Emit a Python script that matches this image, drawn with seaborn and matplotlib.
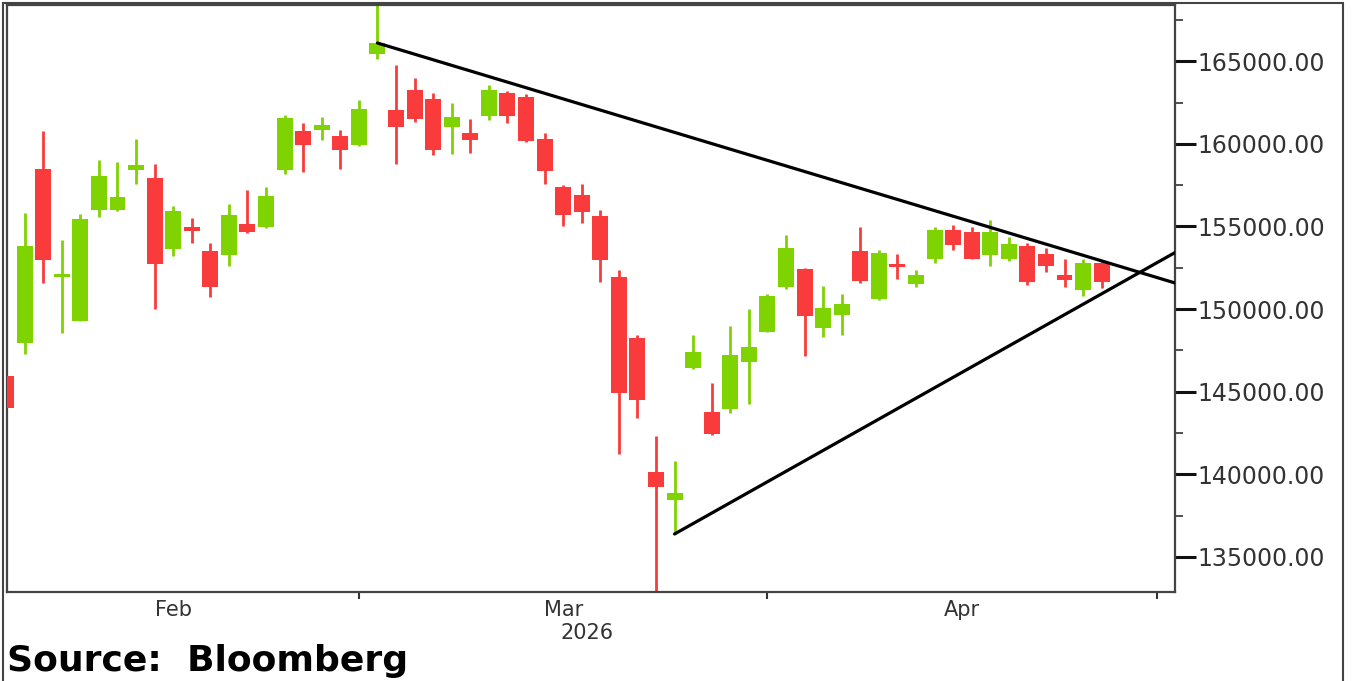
import numpy as np
import pandas as pd
import matplotlib
matplotlib.use("Agg")
import matplotlib.pyplot as plt
import seaborn as sns
from matplotlib.ticker import MultipleLocator, FormatStrFormatter, FixedLocator
from matplotlib.patches import Rectangle
from matplotlib.transforms import blended_transform_factory

sns.set_theme(style="white")
plt.rcParams["font.family"] = ["DejaVu Sans"]

# daily OHLC (one value per trading day)
opens = [145950, 147950, 158450, 151950, 149300, 155980, 155980, 158400, 157950, 153650,
         154970, 153500, 153260, 155140, 154980, 158400, 160760, 160860, 160470, 159910,
         165450, 162030, 163280, 162690, 161020, 160650, 161690, 163080, 162820, 160280,
         157390, 156890, 155620, 151950, 148280, 140160, 138450, 146410, 143790, 143950,
         146770, 148620, 151310, 152450, 148830, 149670, 153500, 150580, 152700, 151510,
         153060, 154770, 154670, 153260, 153060, 153800, 153360, 152050, 151140, 152760]
highs = [146100, 155800, 160780, 154200, 155750, 159050, 158900, 160270, 158750, 156250,
         155540, 154000, 156380, 157180, 157380, 161720, 161260, 161620, 160860, 162680,
         169500, 164790, 164000, 163070, 162470, 161490, 163540, 163220, 163000, 160650,
         157490, 157590, 155980, 152390, 148420, 142320, 140820, 148460, 145500, 148970,
         150000, 150900, 154470, 152500, 151390, 150900, 154970, 153600, 153320, 152350,
         154970, 155070, 154970, 155420, 154370, 154000, 153700, 153000, 153060, 152900]
lows = [143800, 147300, 151550, 148550, 149250, 155570, 155950, 157550, 150000, 153200,
        153970, 150740, 152600, 154600, 154930, 158150, 158300, 160210, 158460, 159880,
        165150, 158800, 161320, 159300, 159370, 159440, 161430, 161270, 160100, 157570,
        155010, 155180, 151640, 141210, 143420, 132500, 136390, 146380, 142400, 143690,
        144250, 148600, 151190, 147170, 148320, 148420, 151550, 150550, 151790, 151310,
        152790, 153560, 153000, 152610, 152910, 151450, 152250, 151340, 150780, 151250]
closes = [144010, 153800, 152950, 152050, 155480, 158050, 156780, 158740, 152750, 155950,
          154730, 151350, 155720, 154680, 156870, 161540, 159950, 161160, 159650, 162130,
          166100, 161020, 161480, 159650, 161620, 160210, 163280, 161690, 160180, 158380,
          155680, 155880, 152960, 144930, 144490, 139250, 138890, 147410, 142440, 147250,
          147720, 150800, 153700, 149590, 150040, 150300, 151690, 153400, 152550, 152050,
          154770, 153860, 153060, 154670, 153910, 151650, 152590, 151750, 152760, 151650]

month_ticks = [19, 41, 62]
month_labels = ["Feb", "Mar", "Apr"]
month_label_pos = [9, 30, 51.5]
year_label = "2026"
year_label_pos = 31.3

# trend lines (start point, point at right edge)
down_x = [20, 62.95]
down_y = [166100, 151580]
up_x = [36, 62.95]
up_y = [136390, 153420]

df = pd.DataFrame({"open": opens, "high": highs, "low": lows, "close": closes})
df["x"] = np.arange(len(df))
df["up"] = df["close"] >= df["open"]

GREEN = "#7FD300"
RED = "#F93B3B"
colors = np.where(df["up"], GREEN, RED)

W, H = 1354, 681
fig = plt.figure(figsize=(W / 100, H / 100), dpi=100)
ax = fig.add_axes([7 / W, 1 - 592 / H, (1175 - 7) / W, (592 - 5) / H])
ax.set_facecolor("white")

# wicks then bodies
ax.vlines(df["x"], df["low"], df["high"], colors=colors, lw=2, zorder=2)
body_lo = df[["open", "close"]].min(axis=1)
body_h = (df["close"] - df["open"]).abs().clip(lower=150)
ax.bar(df["x"], body_h, bottom=body_lo, width=0.86, color=colors, lw=0, zorder=3)

sns.lineplot(x=down_x, y=down_y, ax=ax, color="black", lw=2.3, zorder=4)
sns.lineplot(x=up_x, y=up_y, ax=ax, color="black", lw=2.3, zorder=4)

ax.set_xlim(0.05, 62.95)
ax.set_ylim(132880, 168400)

# y axis on the right
ax.yaxis.tick_right()
ax.yaxis.set_major_locator(MultipleLocator(5000))
ax.yaxis.set_minor_locator(MultipleLocator(2500))
ax.yaxis.set_major_formatter(FormatStrFormatter("%.2f"))
ax.tick_params(axis="y", which="major", direction="out", length=15, width=2.2,
               color="#111111", labelsize=17, labelcolor="#333333", pad=1,
               left=False, right=True)
ax.tick_params(axis="y", which="minor", direction="out", length=6, width=1.2,
               color="#333333", left=False, right=True)

# x axis: ticks at month starts, labels between them
ax.xaxis.set_major_locator(FixedLocator(month_ticks))
ax.xaxis.set_major_formatter(plt.NullFormatter())
ax.xaxis.set_minor_locator(FixedLocator(month_label_pos))
ax.set_xticklabels(month_labels, minor=True)
ax.tick_params(axis="x", which="major", direction="out", length=5, width=1.5,
               color="#333333", bottom=True)
ax.tick_params(axis="x", which="minor", length=0, labelsize=15,
               labelcolor="#333333", pad=6)
trans = blended_transform_factory(ax.transData, ax.transAxes)
ax.text(year_label_pos, -0.07, year_label, transform=trans, ha="center", va="center",
        fontsize=15, color="#333333")

for s in ax.spines.values():
    s.set_visible(True)
    s.set_color("#444444")
    s.set_linewidth(1.6)
ax.grid(False)
ax.set_xlabel("")
ax.set_ylabel("")

fig.text(7 / W, 10 / H, "Source:  Bloomberg", fontsize=26, fontweight="bold",
         color="black", ha="left", va="baseline")

# outer frame of the picture
fig.add_artist(Rectangle((3 / W, -0.01), (1343 - 3) / W, 1.0 - 3 / H + 0.01,
                         transform=fig.transFigure, fill=False, lw=1.5,
                         edgecolor="#444444"))

fig.savefig("out.png", dpi=100)
